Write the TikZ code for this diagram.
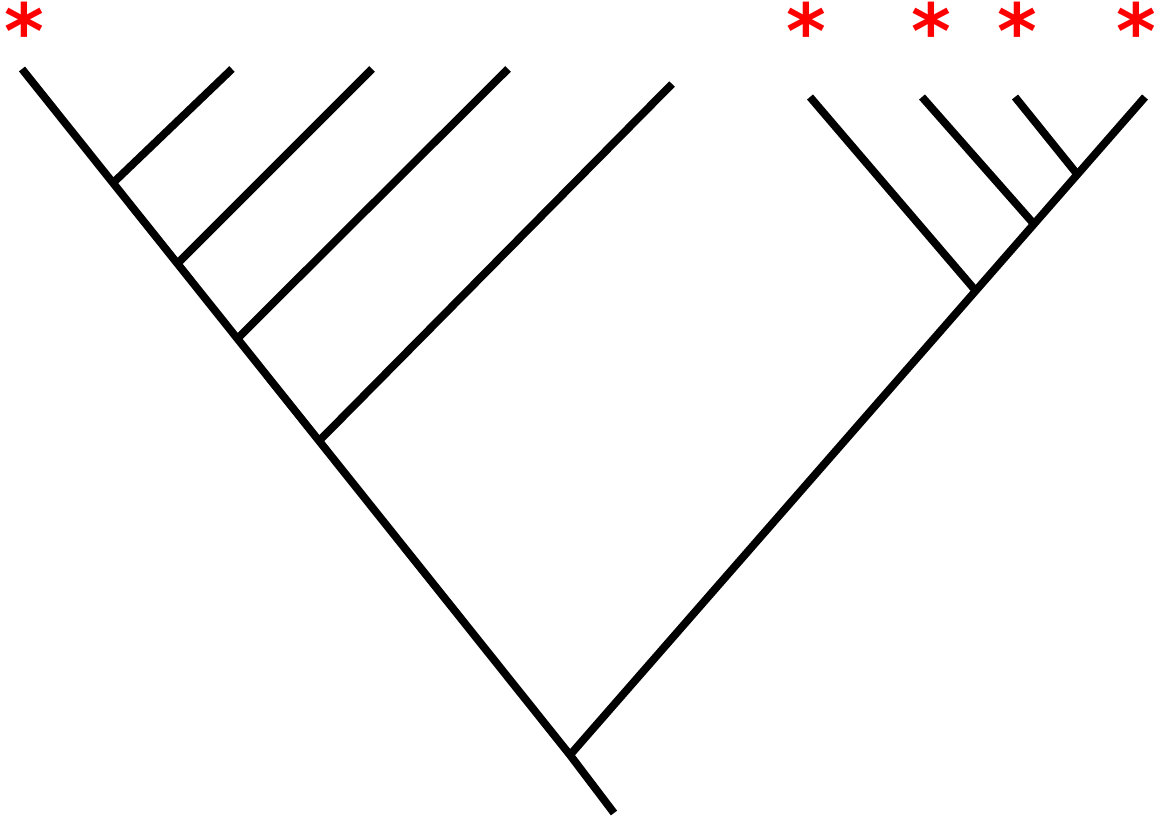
\documentclass[tikz,border=0pt]{standalone}
\usepackage{fontspec}
\newfontfamily\starfont{DejaVu Sans}
\begin{document}
\begin{tikzpicture}[x=0.5pt,y=-0.5pt,
  branch/.style={line width=3.9pt,black},
  star/.style={text=red,font=\starfont\bfseries\fontsize{38}{38}\selectfont,inner sep=0pt}]
\useasboundingbox (0,0) rectangle (1154,818);
% left clade
\coordinate (L1) at (22,69);
\coordinate (L2) at (232,69);
\coordinate (L3) at (372,69);
\coordinate (L4) at (508,69);
\coordinate (L5) at (672,84);
\coordinate (a1) at (113,183);
\coordinate (a2) at (177,264);
\coordinate (a3) at (237,339);
\coordinate (a4) at (319,441);
\coordinate (r) at (570,755);
\coordinate (rootend) at (614,813);
% right clade
\coordinate (R1) at (810,97);
\coordinate (R2) at (922,97);
\coordinate (R3) at (1015,97);
\coordinate (R4) at (1145,97);
\coordinate (b1) at (975,290);
\coordinate (b2) at (1033,223);
\coordinate (b3) at (1077,174);
\draw[branch] (L1) -- (r) -- (rootend);
\draw[branch] (a1) -- (L2);
\draw[branch] (a2) -- (L3);
\draw[branch] (a3) -- (L4);
\draw[branch] (a4) -- (L5);
\draw[branch] (r) -- (R4);
\draw[branch] (b1) -- (R1);
\draw[branch] (b2) -- (R2);
\draw[branch] (b3) -- (R3);
% asterisks
\node[star] (s1) at (24,30) {*};
\node[star] (s2) at (806,30) {*};
\node[star] (s3) at (931,30) {*};
\node[star] (s4) at (1017,30) {*};
\node[star] (s5) at (1136,30) {*};
\end{tikzpicture}
\end{document}
